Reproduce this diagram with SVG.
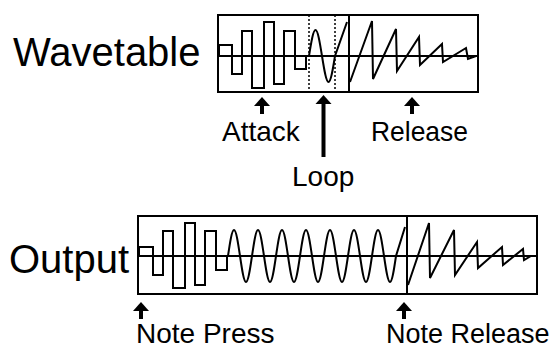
<svg xmlns="http://www.w3.org/2000/svg" width="555" height="350" viewBox="0 0 555 350">
<style>
.box{fill:none;stroke:#000;stroke-width:2}
.wave{fill:none;stroke:#000;stroke-width:2;stroke-linejoin:miter}
.mid{fill:none;stroke:#000;stroke-width:2}
.dot{fill:none;stroke:#000;stroke-width:1.5;stroke-dasharray:2 2}
.sep{fill:none;stroke:#000;stroke-width:2}
.big{font-family:"Liberation Sans",Arial,sans-serif;font-size:40px;fill:#000}
.lbl{font-family:"Liberation Sans",Arial,sans-serif;font-size:28px;fill:#000}
.shaft{stroke:#000;stroke-width:4;fill:none}
</style>
<defs>
<path id="head" d="M0,0 L8,9 L-8,9 Z" fill="#000"/>
</defs>
<rect width="555" height="350" fill="#fff"/>
<g id="wavetable">
<text class="big" x="13" y="66">Wavetable</text>
<rect class="box" x="218" y="15" width="260" height="77"/>
<path class="mid" d="M218,56 H478"/>
<path class="dot" d="M309,15 V92 M335,15 V92"/>
<path class="sep" d="M349,15 V92"/>
<path class="wave" d="M219,56 V45 H232 V74 H242 V31 H252 V88 H264 V22 H274 V84 H284 V31 H295 V69 H306 V56 H309 c2.17,-13.65 4.16,-26 6.5,-26 c2.34,0 4.33,12.35 6.5,26 c2.17,13.65 4.16,26 6.5,26 c2.34,0 4.33,-12.35 6.5,-26 L347,22"/>
<path class="wave" d="M350,82 L372,21 L373,79 L396,29 L397,71 L419,37 L420,65 L442,44 L443,62 L466,48 L468,59 L476,56"/>
</g>
<g id="output">
<text class="big" x="9" y="273">Output</text>
<rect class="box" x="138" y="216" width="399" height="78"/>
<path class="mid" d="M138,256 H537"/>
<path class="sep" d="M407,216 V294"/>
<path class="wave" d="M139,256 V247 H153 V275 H163 V231 H173 V288 H185 V223 H195 V285 H205 V231 H216 V270 H227 V256 H228
c2,-13.65 3.84,-26 6,-26 c2.16,0 4,12.35 6,26 c2,13.65 3.84,26 6,26 c2.16,0 4,-12.35 6,-26
c2,-13.65 3.84,-26 6,-26 c2.16,0 4,12.35 6,26 c2,13.65 3.84,26 6,26 c2.16,0 4,-12.35 6,-26
c2,-13.65 3.84,-26 6,-26 c2.16,0 4,12.35 6,26 c2,13.65 3.84,26 6,26 c2.16,0 4,-12.35 6,-26
c2,-13.65 3.84,-26 6,-26 c2.16,0 4,12.35 6,26 c2,13.65 3.84,26 6,26 c2.16,0 4,-12.35 6,-26
c2,-13.65 3.84,-26 6,-26 c2.16,0 4,12.35 6,26 c2,13.65 3.84,26 6,26 c2.16,0 4,-12.35 6,-26
c2,-13.65 3.84,-26 6,-26 c2.16,0 4,12.35 6,26 c2,13.65 3.84,26 6,26 c2.16,0 4,-12.35 6,-26
c2,-13.65 3.84,-26 6,-26 c2.16,0 4,12.35 6,26 c2,13.65 3.84,26 6,26 c2.16,0 4,-12.35 6,-26
L405,227"/>
<path class="wave" d="M408,285 L429,223 L430,278 L454,230 L455,275 L477,242 L478,268 L502,247 L503,265 L523,249 L524,260 L531,256"/>
</g>
<g id="label-attack"><text class="lbl" x="222" y="141">Attack</text></g>
<g id="label-release"><text class="lbl" x="371" y="141" textLength="97" lengthAdjust="spacingAndGlyphs">Release</text></g>
<g id="label-loop"><text class="lbl" x="292" y="186">Loop</text></g>
<g id="label-notepress"><text class="lbl" x="136" y="343">Note Press</text></g>
<g id="label-noterelease"><text class="lbl" x="386" y="343" style="font-size:27px">Note Release</text></g>
<g id="connectors">
<use href="#head" x="262" y="97"/><path class="shaft" d="M262,104 V114"/>
<use href="#head" x="412" y="97"/><path class="shaft" d="M412,104 V114"/>
<use href="#head" x="323.5" y="95"/><path class="shaft" d="M323.5,102 V157"/>
<use href="#head" x="141" y="302"/><path class="shaft" d="M141,309 V319"/>
<use href="#head" x="404" y="302"/><path class="shaft" d="M404,309 V319"/>
</g>
</svg>
